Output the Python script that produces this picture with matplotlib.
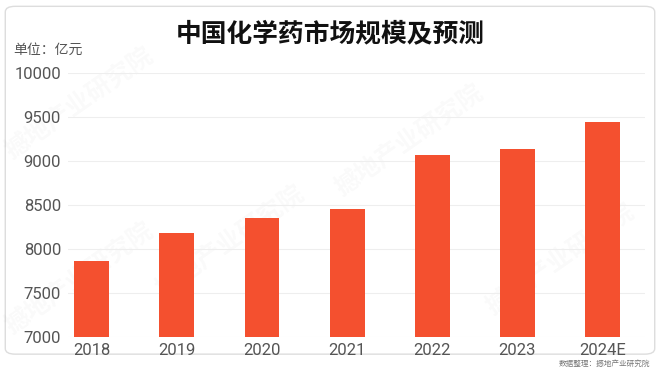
import matplotlib.pyplot as plt
from matplotlib.patches import FancyBboxPatch

plt.rcParams['font.family'] = ['Noto Sans CJK SC', 'DejaVu Sans']

# Data
years = ['2018', '2019', '2020', '2021', '2022', '2023', '2024E']
market_size = [7865, 8180, 8355, 8460, 9070, 9140, 9445]
y_ticks = [7000, 7500, 8000, 8500, 9000, 9500, 10000]

bar_color = '#F4502F'
text_color = '#555555'

fig = plt.figure(figsize=(6.6, 3.72), dpi=100)
fig.patch.set_facecolor('white')

# card border
card = FancyBboxPatch((0.008, 0.048), 0.984, 0.935, boxstyle='round,pad=0,rounding_size=0.015',
                      transform=fig.transFigure, facecolor='white', edgecolor='#DDDDDD',
                      linewidth=1.0, zorder=-10)
fig.patches.append(card)

ax = fig.add_axes([68 / 660, 1 - 337 / 372, (645 - 68) / 660, (337 - 73) / 372])
ax.set_facecolor('none')
x = list(range(len(years)))
ax.bar(x, market_size, width=0.41, color=bar_color, zorder=3)

ax.set_ylim(7000, 10000)
ax.set_xlim(-0.28, 6.5)
ax.set_yticks(y_ticks)
ax.set_xticks(x)
ax.set_xticklabels(years)
ax.tick_params(axis='both', length=0, colors=text_color, labelsize=12)
ax.tick_params(axis='x', pad=4)
ax.tick_params(axis='y', pad=5)
for lbl in ax.get_xticklabels() + ax.get_yticklabels():
    lbl.set_family(['Roboto', 'DejaVu Sans'])
ax.grid(axis='y', color='#EEEEEE', linewidth=0.8, zorder=0)
for s in ax.spines.values():
    s.set_visible(False)

# watermarks
for (wx, wy) in [(0.12, 0.72), (0.35, 0.35), (0.62, 0.62), (0.85, 0.3), (0.12, 0.25)]:
    fig.text(wx, wy, '撼地产业研究院', fontsize=18, color='#000000', alpha=0.025,
             rotation=35, ha='center', va='center', fontweight='bold', zorder=-5)

fig.text(0.5, 1 - 34 / 372, '中国化学药市场规模及预测', ha='center', va='center',
         fontsize=18.5, fontweight='bold', color='#111111')
fig.text(13 / 660, 1 - 50 / 372, '单位：亿元', ha='left', va='center',
         fontsize=10, color=text_color, fontweight='medium')
fig.text(650 / 660, 1 - 364 / 372, '数据整理：撼地产业研究院', ha='right', va='center',
         fontsize=5.5, color='#777777')

fig.savefig('out.png', dpi=100)
